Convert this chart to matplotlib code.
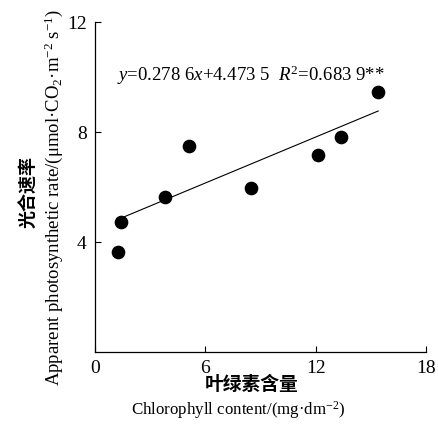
import matplotlib.pyplot as plt
import numpy as np

# chlorophyll content vs apparent photosynthetic rate
chl = [1.25, 1.41, 3.8, 5.1, 8.48, 12.1, 13.4, 15.4]
pn = [3.64, 4.73, 5.64, 7.49, 5.96, 7.16, 7.82, 9.45]
slope = 0.2786
intercept = 4.4735
x_ticks = [0, 6, 12, 18]
y_ticks = [4, 8, 12]

plt.rcParams['font.family'] = ['Liberation Serif', 'Noto Sans CJK SC']
plt.rcParams['mathtext.fontset'] = 'custom'
plt.rcParams['mathtext.rm'] = 'Liberation Serif'
plt.rcParams['mathtext.it'] = 'Liberation Serif:italic'

fig = plt.figure(figsize=(4.39, 4.32), dpi=100)
ax = fig.add_axes([95 / 439, 80 / 432, 331 / 439, 330 / 432])

ax.scatter(chl, pn, s=78, color='black', zorder=3)
xs = np.array([min(chl) + 0.16, max(chl)])
ax.plot(xs, slope * xs + intercept, color='black', lw=0.8)

ax.set_xlim(0, 18)
ax.set_ylim(0, 12)
ax.set_xticks(x_ticks)
ax.set_yticks(y_ticks)
ax.tick_params(direction='in', length=4, width=0.8, labelsize=14, pad=6)
for s in ['top', 'right']:
    ax.spines[s].set_visible(False)
for s in ['left', 'bottom']:
    ax.spines[s].set_linewidth(0.9)

ax.text(0.47, 0.84, r'$y$=0.278 6$x$+4.473 5  $R^2$=0.683 9**',
        transform=ax.transAxes, ha='center', va='center', fontsize=13.5)

fig.text(29 / 439, 1 - 192 / 432, '光合速率', rotation=90, ha='center', va='center',
         fontsize=13, fontweight='semibold', family='Noto Sans CJK SC')
fig.text(54 / 439, 1 - 197 / 432,
         r'Apparent photosynthetic rate/(μmol·CO$_2$·m$^{-2}$ s$^{-1}$)',
         rotation=90, ha='center', va='center', fontsize=13.5)
fig.text(252 / 439, 1 - 384 / 432, '叶绿素含量', ha='center', va='center',
         fontsize=13.5, fontweight='semibold', family='Noto Sans CJK SC')
fig.text(238 / 439, 1 - 410 / 432, r'Chlorophyll content/(mg·dm$^{-2}$)',
         ha='center', va='center', fontsize=12.2)

fig.savefig('out.png', dpi=100)
